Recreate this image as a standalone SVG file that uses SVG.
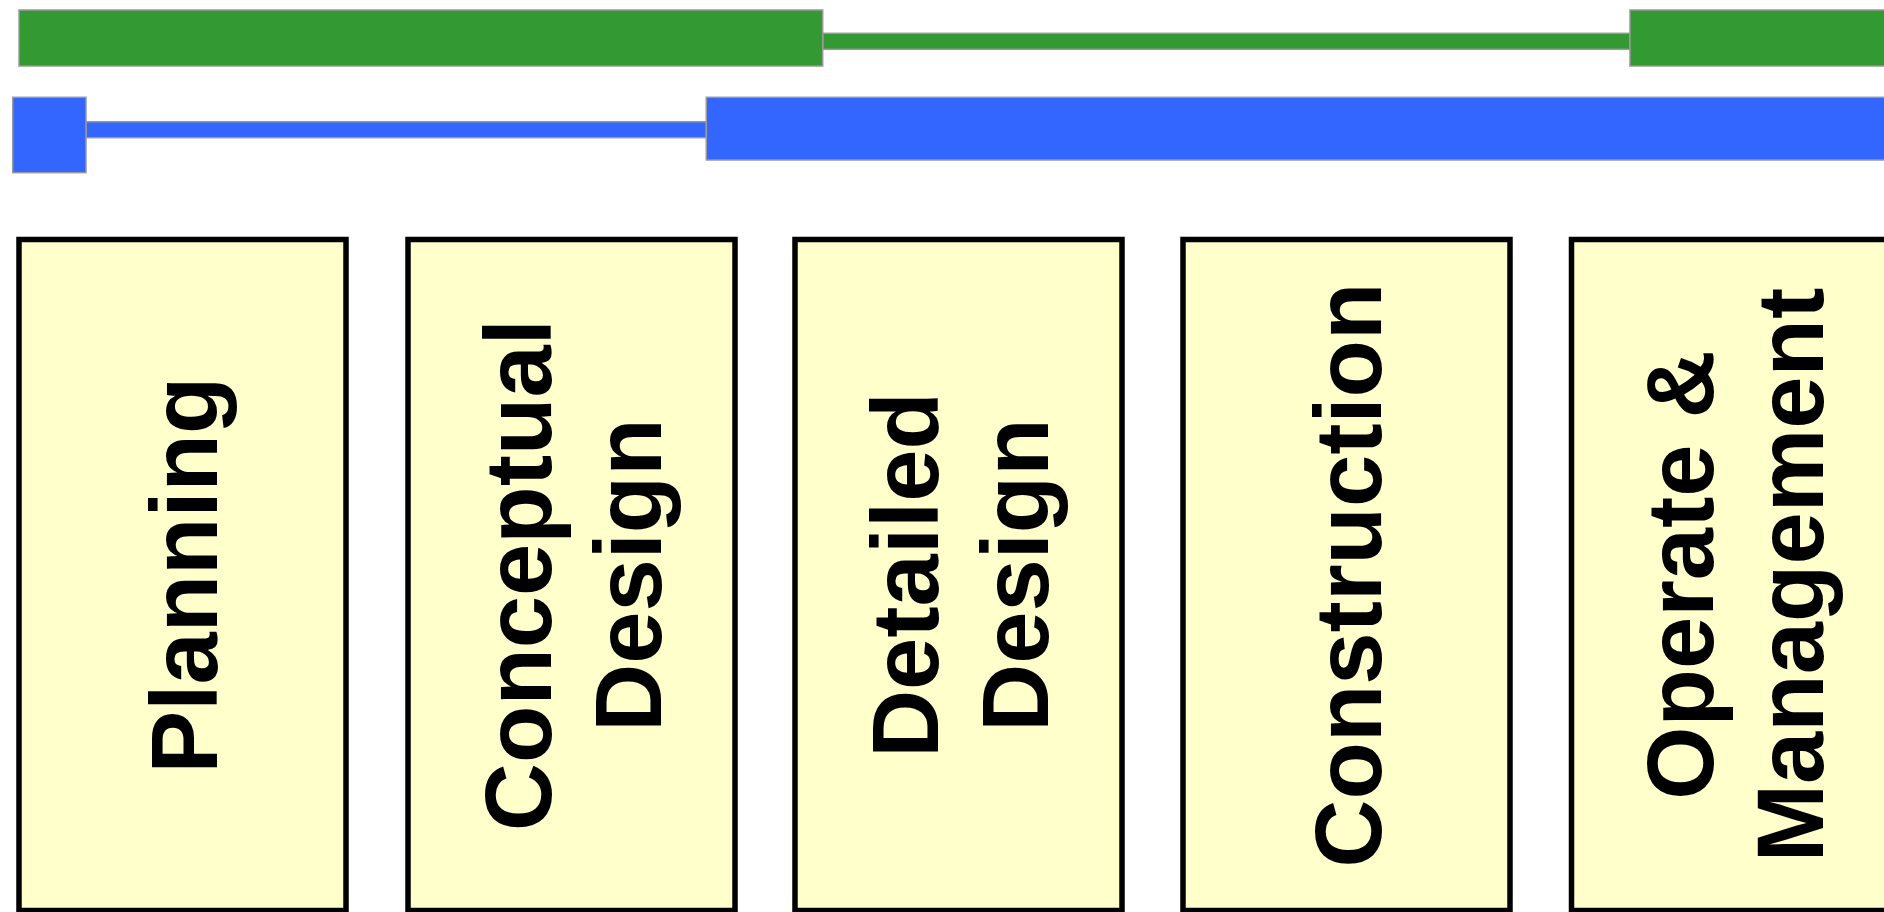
<svg xmlns="http://www.w3.org/2000/svg" width="1884" height="912" viewBox="0 0 1884 912">
<style>
.g{fill:#339933;stroke:#999999;stroke-width:1.5}
.b{fill:#3366FF;stroke:#999999;stroke-width:1.5}
.box{fill:#FFFFCC;stroke:#000000;stroke-width:5.5}
.t{font-family:"Liberation Sans",Arial,sans-serif;font-weight:bold;font-size:94px;fill:#000;text-anchor:middle}
</style>
<rect width="1884" height="912" fill="#ffffff"/>
<g id="connectors">
<rect class="g" x="822.7" y="33.3" width="807.3" height="16"/>
<rect class="b" x="86" y="121.7" width="620.3" height="16"/>
</g>
<g id="bar-green-1"><rect class="g" x="19" y="10" width="803.7" height="56"/></g>
<g id="bar-green-2"><rect class="g" x="1630" y="10" width="270" height="56"/></g>
<g id="bar-blue-1"><rect class="b" x="12.7" y="97.3" width="73.3" height="75.4"/></g>
<g id="bar-blue-2"><rect class="b" x="706.3" y="97.3" width="1200" height="62.7"/></g>
<g id="planning">
<rect class="box" x="19" y="239.5" width="327" height="671"/>
<text class="t" transform="translate(182.5,575) rotate(-90)" x="0" y="34">Planning</text>
</g>
<g id="conceptual-design">
<rect class="box" x="408" y="239.5" width="327" height="671"/>
<text class="t" transform="translate(571.5,575) rotate(-90)"><tspan x="0" y="-21">Conceptual</tspan><tspan x="0" y="89">Design</tspan></text>
</g>
<g id="detailed-design">
<rect class="box" x="795" y="239.5" width="327" height="671"/>
<text class="t" transform="translate(958.5,575) rotate(-90)"><tspan x="0" y="-21">Detailed</tspan><tspan x="0" y="89">Design</tspan></text>
</g>
<g id="construction">
<rect class="box" x="1183" y="239.5" width="327" height="671"/>
<text class="t" transform="translate(1346.5,575) rotate(-90)" x="0" y="34">Construction</text>
</g>
<g id="operate-management">
<rect class="box" x="1571.5" y="239.5" width="327" height="671"/>
<text class="t" transform="translate(1734,575) rotate(-90)"><tspan x="0" y="-21">Operate &amp;</tspan><tspan x="0" y="89">Management</tspan></text>
</g>
</svg>
